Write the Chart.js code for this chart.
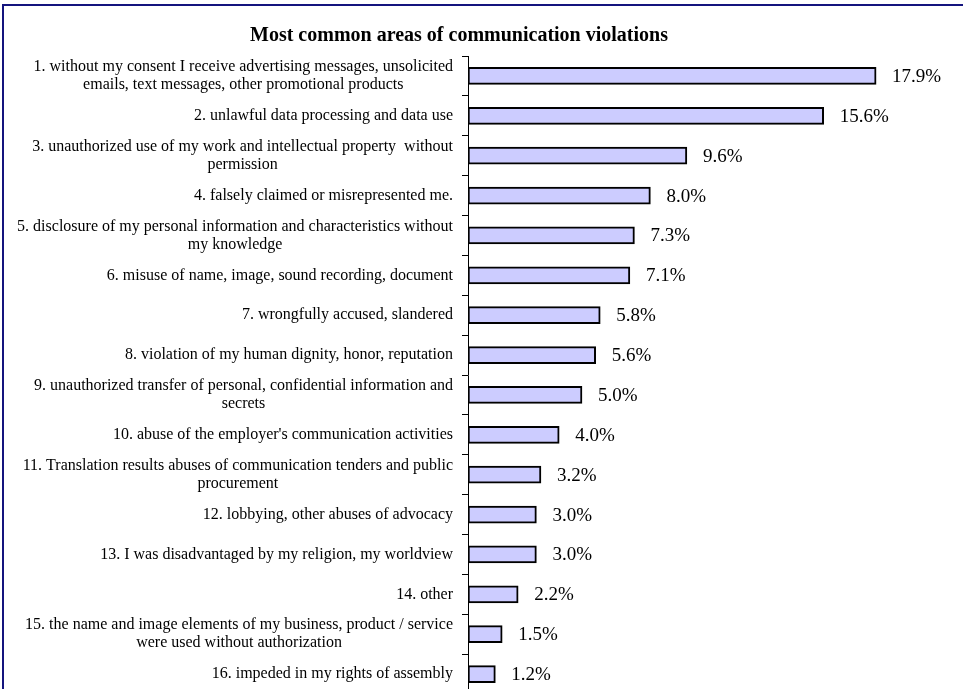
<!DOCTYPE html>
<html>
<head>
<meta charset="utf-8">
<title>Most common areas of communication violations</title>
<script src="https://cdn.jsdelivr.net/npm/chart.js@4/dist/chart.umd.min.js"></script>
<style>
    html, body {
        margin: 0;
        padding: 0;
        background: #ffffff;
        overflow: hidden;
        width: 963px;
        height: 689px;
    }
    #frame {
        position: absolute;
        left: 2px;
        top: 4px;
        width: 1000px;
        height: 800px;
        border: 2px solid #14147e;
    }
    #violationsChart {
        position: absolute;
        left: 0;
        top: 0;
    }
</style>
</head>
<body>
<div id="frame"></div>
<canvas id="violationsChart" width="963" height="720"></canvas>
<script>
const chartTitle = 'Most common areas of communication violations';

const categories = [
    ['1. without my consent I receive advertising messages, unsolicited', 'emails, text messages, other promotional products'],
    '2. unlawful data processing and data use',
    ['3. unauthorized use of my work and intellectual property  without', 'permission'],
    '4. falsely claimed or misrepresented me.',
    ['5. disclosure of my personal information and characteristics without', 'my knowledge'],
    '6. misuse of name, image, sound recording, document',
    '7. wrongfully accused, slandered',
    '8. violation of my human dignity, honor, reputation',
    ['9. unauthorized transfer of personal, confidential information and', 'secrets'],
    '10. abuse of the employer\'s communication activities',
    ['11. Translation results abuses of communication tenders and public', 'procurement'],
    '12. lobbying, other abuses of advocacy',
    '13. I was disadvantaged by my religion, my worldview',
    '14. other',
    ['15. the name and image elements of my business, product / service', 'were used without authorization'],
    '16. impeded in my rights of assembly'
];

const shares = [17.9, 15.6, 9.6, 8.0, 7.3, 7.1, 5.8, 5.6, 5.0, 4.0, 3.2, 3.0, 3.0, 2.2, 1.5, 1.2];

const SERIF = "'Liberation Serif', 'Times New Roman', serif";

// Title drawn above the plot, a bit left of the canvas centre
const titlePlugin = {
    id: 'titleText',
    afterDraw(chart) {
        const ctx = chart.ctx;
        ctx.save();
        ctx.font = 'bold 20px ' + SERIF;
        ctx.fillStyle = '#000000';
        ctx.textAlign = 'center';
        ctx.textBaseline = 'middle';
        ctx.fillText(chartTitle, 459, 36);
        ctx.restore();
    }
};

// Category labels: right-aligned block, extra lines centred under the first
const categoryLabels = {
    id: 'categoryLabels',
    afterDraw(chart) {
        const ctx = chart.ctx;
        const yScale = chart.scales.y;
        const rightEdge = yScale.right - 15;
        const lineHeight = 18;
        ctx.save();
        ctx.font = '16px ' + SERIF;
        ctx.fillStyle = '#000000';
        ctx.textAlign = 'center';
        ctx.textBaseline = 'middle';
        categories.forEach((label, i) => {
            const lines = Array.isArray(label) ? label : [label];
            const widest = Math.max(...lines.map(l => ctx.measureText(l).width));
            const cx = rightEdge - widest / 2;
            const y = yScale.getPixelForValue(i);
            lines.forEach((line, j) => {
                ctx.fillText(line, cx, y + (j - (lines.length - 1) / 2) * lineHeight);
            });
        });
        ctx.restore();
    }
};

// Percent value to the right of each bar
const valueLabels = {
    id: 'valueLabels',
    afterDatasetsDraw(chart) {
        const ctx = chart.ctx;
        const meta = chart.getDatasetMeta(0);
        ctx.save();
        ctx.font = '19px ' + SERIF;
        ctx.fillStyle = '#000000';
        ctx.textAlign = 'left';
        ctx.textBaseline = 'middle';
        meta.data.forEach((bar, i) => {
            ctx.fillText(shares[i].toFixed(1) + '%', bar.x + 16, bar.y + 1);
        });
        ctx.restore();
    }
};

new Chart(document.getElementById('violationsChart'), {
    type: 'bar',
    data: {
        labels: categories,
        datasets: [{
            data: shares,
            backgroundColor: '#ccccff',
            borderColor: '#000000',
            borderWidth: 2,
            borderSkipped: false,
            barThickness: 17
        }]
    },
    options: {
        indexAxis: 'y',
        responsive: false,
        animation: false,
        layout: {
            padding: { top: 56, right: 39, bottom: 26, left: 0 }
        },
        scales: {
            x: {
                display: false,
                min: 0,
                max: 20
            },
            y: {
                afterFit(scale) {
                    scale.width = 468;
                },
                grid: {
                    offset: true,
                    drawOnChartArea: false,
                    drawTicks: true,
                    tickLength: 6,
                    tickColor: '#000000',
                    tickWidth: 1
                },
                border: {
                    display: true,
                    color: '#000000',
                    width: 1
                },
                ticks: {
                    autoSkip: false,
                    color: 'rgba(0,0,0,0)',
                    font: { family: SERIF, size: 16 }
                }
            }
        },
        plugins: {
            legend: { display: false },
            tooltip: { enabled: false },
            title: { display: false }
        }
    },
    plugins: [titlePlugin, categoryLabels, valueLabels]
});
</script>
</body>
</html>
